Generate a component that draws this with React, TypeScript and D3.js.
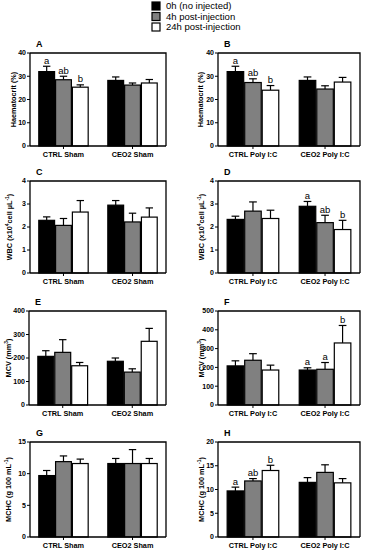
import * as d3 from "d3";

// categories
const shamGroups = ["CTRL Sham", "CEO2 Sham"];
const polyGroups = ["CTRL Poly I:C", "CEO2 Poly I:C"];
const seriesNames = ["0h (no injected)", "4h post-injection", "24h post-injection"];
const seriesColors = ["#000000", "#808080", "#ffffff"];

// means per group [0h, 4h, 24h], and SEM (upper whisker)
const hctShamMean = [[32, 28.5, 25.3], [28.2, 26.2, 27.1]];
const hctShamSem = [[2.3, 1.5, 1.0], [1.5, 0.9, 1.5]];
const hctPolyMean = [[32, 27.3, 24], [28.2, 24.5, 27.5]];
const hctPolySem = [[2.3, 1.6, 2.0], [1.5, 1.4, 2.0]];

const wbcShamMean = [[2.29, 2.07, 2.65], [2.95, 2.22, 2.43]];
const wbcShamSem = [[0.15, 0.3, 0.5], [0.2, 0.38, 0.4]];
const wbcPolyMean = [[2.33, 2.69, 2.37], [2.9, 2.19, 1.89]];
const wbcPolySem = [[0.14, 0.4, 0.36], [0.21, 0.32, 0.4]];

const mcvShamMean = [[207, 224, 167], [186, 140, 271]];
const mcvShamSem = [[24, 54, 14], [14, 14, 55]];
const mcvPolyMean = [[208, 238, 186], [186, 190, 330]];
const mcvPolySem = [[27, 35, 26], [12, 36, 93]];

const mchcShamMean = [[9.7, 11.9, 11.6], [11.6, 11.6, 11.6]];
const mchcShamSem = [[0.8, 0.9, 0.7], [0.8, 2.2, 0.8]];
const mchcPolyMean = [[9.7, 11.8, 14.0], [11.5, 13.6, 11.4]];
const mchcPolySem = [[0.8, 0.5, 1.1], [1.0, 1.6, 0.9]];

// significance letters
const letters3 = ["a", "ab", "b"];
const lettersF = ["a", "a", "b"];

// y tick values
const hctTicks = [0, 10, 20, 30, 40];
const wbcTicks = [0, 1, 2, 3, 4];
const mcvShamTicks = [0, 100, 200, 300, 400];
const mcvPolyTicks = [0, 100, 200, 300, 400, 500];
const mchcShamTicks = [0, 5, 10, 15];
const mchcPolyTicks = [0, 5, 10, 15, 20];

const FONT = "'Liberation Sans', Arial, sans-serif";

type Panel = {
  letter: string;
  x0: number; x1: number; y0: number; y1: number;
  groups: string[];
  mean: number[][];
  sem: number[][];
  ticks: number[];
  yLabel: string;
  labelX: number;
  sig?: { group: number; labels: string[] };
};

const panels: Panel[] = [
  { letter: "A", x0: 30, x1: 166, y0: 53, y1: 146, groups: shamGroups, mean: hctShamMean, sem: hctShamSem, ticks: hctTicks, yLabel: "Haematocrit (%)", labelX: 13, sig: { group: 0, labels: letters3 } },
  { letter: "B", x0: 218, x1: 360, y0: 53, y1: 146, groups: polyGroups, mean: hctPolyMean, sem: hctPolySem, ticks: hctTicks, yLabel: "Haematocrit (%)", labelX: 200, sig: { group: 0, labels: letters3 } },
  { letter: "C", x0: 30, x1: 166, y0: 181, y1: 273, groups: shamGroups, mean: wbcShamMean, sem: wbcShamSem, ticks: wbcTicks, yLabel: "wbc", labelX: 9 },
  { letter: "D", x0: 218, x1: 360, y0: 181, y1: 273, groups: polyGroups, mean: wbcPolyMean, sem: wbcPolySem, ticks: wbcTicks, yLabel: "wbc", labelX: 201, sig: { group: 1, labels: letters3 } },
  { letter: "E", x0: 29, x1: 166, y0: 311, y1: 405, groups: shamGroups, mean: mcvShamMean, sem: mcvShamSem, ticks: mcvShamTicks, yLabel: "mcv", labelX: 8 },
  { letter: "F", x0: 218, x1: 360, y0: 311, y1: 405, groups: polyGroups, mean: mcvPolyMean, sem: mcvPolySem, ticks: mcvPolyTicks, yLabel: "mcv", labelX: 201, sig: { group: 1, labels: lettersF } },
  { letter: "G", x0: 30, x1: 166, y0: 442, y1: 537, groups: shamGroups, mean: mchcShamMean, sem: mchcShamSem, ticks: mchcShamTicks, yLabel: "mchc", labelX: 8 },
  { letter: "H", x0: 218, x1: 360, y0: 442, y1: 537, groups: polyGroups, mean: mchcPolyMean, sem: mchcPolySem, ticks: mchcPolyTicks, yLabel: "mchc", labelX: 201, sig: { group: 0, labels: letters3 } },
];

function YTitle({ kind }: { kind: string }) {
  if (kind === "wbc")
    return (<>WBC (x10<tspan dy={-3} fontSize={5}>4</tspan><tspan dy={3}>cell µL</tspan><tspan dy={-3} fontSize={5}>-1</tspan><tspan dy={3}>)</tspan></>);
  if (kind === "mcv")
    return (<>MCV (mm<tspan dy={-3} fontSize={5}>3</tspan><tspan dy={3}>)</tspan></>);
  if (kind === "mchc")
    return (<>MCHC (g 100 mL<tspan dy={-3} fontSize={5}>-1</tspan><tspan dy={3}>)</tspan></>);
  return <>{kind}</>;
}

function BarPanel({ p }: { p: Panel }) {
  const yMax = p.ticks[p.ticks.length - 1];
  const y = d3.scaleLinear().domain([0, yMax]).range([p.y1, p.y0]);
  const x = d3.scaleBand<string>().domain(p.groups).range([p.x0, p.x1]).paddingInner(0.27).paddingOuter(0.12);
  const xs = d3.scaleBand<number>().domain([0, 1, 2]).range([0, x.bandwidth()]);
  const bw = xs.bandwidth();

  return (
    <g>
      <text x={p.x0 + 6} y={p.y0 - 6.5} fontFamily={FONT} fontWeight="bold" fontSize={9}>{p.letter}</text>
      {/* bars with upper SEM whisker */}
      {p.groups.map((g, gi) =>
        p.mean[gi].map((m, si) => {
          const bx = (x(g) as number) + (xs(si) as number);
          const cx = bx + bw / 2;
          const top = y(m + p.sem[gi][si]);
          return (
            <g key={g + si}>
              <line x1={cx} x2={cx} y1={y(m)} y2={top} stroke="#000" strokeWidth={1.2} />
              <line x1={cx - bw * 0.22} x2={cx + bw * 0.22} y1={top} y2={top} stroke="#000" strokeWidth={1.2} />
              <rect x={bx + 0.5} y={y(m)} width={bw - 1} height={p.y1 - y(m)} fill={seriesColors[si]} stroke="#000" strokeWidth={1.2} />
              {p.sig && p.sig.group === gi && (
                <text x={cx} y={top - 2.5} textAnchor="middle" fontFamily={FONT} fontSize={9.5}>{p.sig.labels[si]}</text>
              )}
            </g>
          );
        })
      )}
      {/* frame */}
      <path d={`M${p.x0},${p.y0}H${p.x1}V${p.y1}`} fill="none" stroke="#000" strokeWidth={1.3} />
      {/* y axis */}
      <line x1={p.x0} x2={p.x0} y1={p.y0} y2={p.y1} stroke="#000" strokeWidth={1.3} />
      {p.ticks.map((t) => (
        <g key={t}>
          <line x1={p.x0 - 3} x2={p.x0} y1={y(t)} y2={y(t)} stroke="#000" strokeWidth={1} />
          <text x={p.x0 - 4} y={y(t)} dy="0.35em" textAnchor="end" fontFamily={FONT} fontWeight="bold" fontSize={7}>{t}</text>
        </g>
      ))}
      {/* x axis */}
      <line x1={p.x0} x2={p.x1} y1={p.y1} y2={p.y1} stroke="#000" strokeWidth={1.3} />
      {p.groups.map((g) => {
        const cx = (x(g) as number) + x.bandwidth() / 2;
        return (
          <g key={g}>
            <line x1={cx} x2={cx} y1={p.y1} y2={p.y1 + 3} stroke="#000" strokeWidth={1} />
            <text x={cx} y={p.y1 + 11} textAnchor="middle" fontFamily={FONT} fontWeight="bold" fontSize={7.3}>{g}</text>
          </g>
        );
      })}
      {/* y title */}
      <text transform={`translate(${p.labelX},${(p.y0 + p.y1) / 2}) rotate(-90)`} dy="0.35em" textAnchor="middle" fontFamily={FONT} fontWeight="bold" fontSize={7.3}>
        <YTitle kind={p.yLabel} />
      </text>
    </g>
  );
}

export default function App() {
  return (
    <svg width={365} height={550} style={{ position: "absolute", left: 0, top: 0, background: "#fff" }}>
      <rect width={365} height={550} fill="#fff" />
      {/* legend */}
      {seriesNames.map((s, i) => (
        <g key={s}>
          <rect x={152} y={2 + i * 10.5} width={8} height={8} fill={seriesColors[i]} stroke="#000" strokeWidth={1.2} />
          <text x={166} y={6 + i * 10.5} dy="0.35em" fontFamily={FONT} fontSize={9.5}>{s}</text>
        </g>
      ))}
      {panels.map((p) => <BarPanel key={p.letter} p={p} />)}
    </svg>
  );
}
